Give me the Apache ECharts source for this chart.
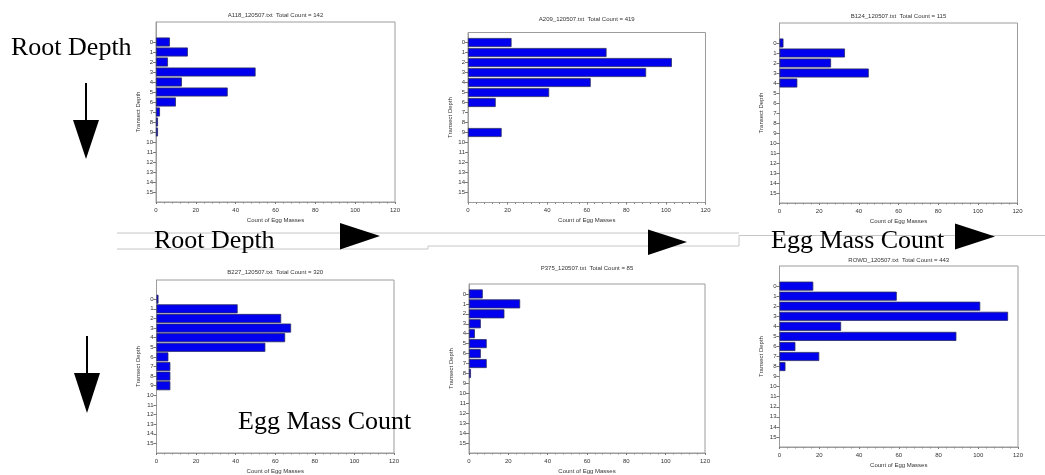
<!DOCTYPE html>
<html>
<head>
<meta charset="utf-8">
<script src="https://cdn.jsdelivr.net/npm/echarts@6/dist/echarts.min.js"></script>
<style>
html,body{margin:0;padding:0;background:#fff;}
#chart{width:1045px;height:475px;}
</style>
</head>
<body>
<div id="chart"></div>
<script>
// ---- data ----
const depths = [0,1,2,3,4,5,6,7,8,9,10,11,12,13,14,15];
const a118 = [7,16,6,50,13,36,10,2,1,1,0,0,0,0,0,0];
const a209 = [22,70,103,90,62,41,14,0,0,17,0,0,0,0,0,0];
const b124 = [2,33,26,45,9,0,0,0,0,0,0,0,0,0,0,0];
const b227 = [1,41,63,68,65,55,6,7,7,7,0,0,0,0,0,0];
const p375 = [7,26,18,6,3,9,6,9,1,0,0,0,0,0,0,0];
const rowd = [17,59,101,115,31,89,8,20,3,0,0,0,0,0,0,0];
const panelTitles = [
  'A118_120507.txt  Total Count = 142',
  'A209_120507.txt  Total Count = 419',
  'B124_120507.txt  Total Count = 115',
  'B227_120507.txt  Total Count = 320',
  'P375_120507.txt  Total Count = 85',
  'ROWD_120507.txt  Total Count = 443'
];
const panelValues = [a118, a209, b124, b227, p375, rowd];
const xMin = 0, xMax = 120, xStep = 20;
const xName = 'Count of Egg Masses';
const yName = 'Transect Depth';

// ---- layout (positions only) ----
const layouts = [
  {left:156,   top:22,  width:239,   height:180, yFrom:-2, titleY:16},
  {left:468,   top:32.5,width:237.5, height:170, yFrom:-1, titleY:19.5},
  {left:779.5, top:23,  width:238,   height:180, yFrom:-2, titleY:16.5},
  {left:156.5, top:280, width:237.5, height:180, yFrom:-2, titleY:272.5},
  {left:469,   top:284, width:236,   height:173, yFrom:-1, titleY:269},
  {left:779.5, top:266, width:238.5, height:181, yFrom:-2, titleY:261}
];

const txt = '#333';
const boxColor = '#9c9c9c';
const grids = [], xAxes = [], yAxes = [], series = [], titles = [];
const inRange = (i, v) => +v >= depths[0] && +v <= depths[depths.length-1];

layouts.forEach((L, i) => {
  const cats = [];
  for (let d = L.yFrom; d <= 16; d++) cats.push(String(d));
  grids.push({left:L.left, top:L.top, width:L.width, height:L.height,
    show:true, borderColor:boxColor, borderWidth:1, backgroundColor:'transparent', containLabel:false});
  titles.push({text:panelTitles[i], left:L.left + L.width/2, top:L.titleY - 3.5, textAlign:'center',
    padding:0, textStyle:{fontSize:6, fontWeight:'normal', color:txt, fontFamily:'Liberation Sans'}});
  xAxes.push({type:'value', gridIndex:i, min:xMin, max:xMax, interval:xStep,
    name:xName, nameLocation:'middle', nameGap:15,
    nameTextStyle:{fontSize:6, color:txt, fontFamily:'Liberation Sans'},
    axisLine:{show:true, lineStyle:{color:boxColor, width:1}},
    axisTick:{show:true, length:2, lineStyle:{color:'#777'}},
    minorTick:{show:true, splitNumber:5, length:1.5, lineStyle:{color:'#888'}},
    axisLabel:{fontSize:6, color:txt, margin:5, fontFamily:'Liberation Sans'},
    splitLine:{show:false}});
  yAxes.push({type:'category', gridIndex:i, inverse:true, boundaryGap:false, data:cats,
    name:yName, nameLocation:'middle', nameGap:15, nameRotate:90,
    nameTextStyle:{fontSize:6, color:txt, fontFamily:'Liberation Sans'},
    axisLine:{show:true, lineStyle:{color:boxColor, width:1}},
    axisTick:{show:true, length:3, interval:inRange, lineStyle:{color:'#777'}},
    axisLabel:{fontSize:6, color:txt, margin:3, interval:inRange, fontFamily:'Liberation Sans'},
    splitLine:{show:false}});
  const vals = panelValues[i];
  series.push({type:'bar', xAxisIndex:i, yAxisIndex:i, barWidth:9, silent:true,
    itemStyle:{color:'#0000ee', borderColor:'#2a2a66', borderWidth:0.8},
    data: depths.filter((d, k) => vals[k] > 0).map(d => [vals[depths.indexOf(d)], String(d)])});
});

const serif = 'Liberation Serif';
const graphics = [
  // band lines between the rows
  {type:'polyline', shape:{points:[[117,233],[739,233]]}, style:{stroke:'#c6c6c6', lineWidth:1}},
  {type:'polyline', shape:{points:[[117,249],[428,249],[428,246],[739,246],[739,235.5],[1045,235.5]]}, style:{stroke:'#c6c6c6', lineWidth:1, fill:null}},
  // arrows
  {type:'polygon', shape:{points:[[340,223],[380,236],[340,249.5]]}, style:{fill:'#000'}},
  {type:'polygon', shape:{points:[[648,229.5],[687,242],[648,255]]}, style:{fill:'#000'}},
  {type:'polygon', shape:{points:[[955,223.5],[995,236.5],[955,249.5]]}, style:{fill:'#000'}},
  {type:'line', shape:{x1:86, y1:83, x2:86, y2:122}, style:{stroke:'#000', lineWidth:2}},
  {type:'polygon', shape:{points:[[73,120],[99,120],[86,159]]}, style:{fill:'#000'}},
  {type:'line', shape:{x1:87, y1:336, x2:87, y2:375}, style:{stroke:'#000', lineWidth:2}},
  {type:'polygon', shape:{points:[[74,373],[100,373],[87,413]]}, style:{fill:'#000'}},
  // texts
  {type:'text', x:11, y:48, style:{text:'Root Depth', font:'26px "Liberation Serif"', fill:'#000', verticalAlign:'middle'}},
  {type:'text', x:154, y:241, style:{text:'Root Depth', font:'26px "Liberation Serif"', fill:'#000', verticalAlign:'middle'}},
  {type:'text', x:771, y:241, style:{text:'Egg Mass Count', font:'26px "Liberation Serif"', fill:'#000', verticalAlign:'middle'}},
  {type:'text', x:238, y:422, style:{text:'Egg Mass Count', font:'26px "Liberation Serif"', fill:'#000', verticalAlign:'middle'}}
];

const chart = echarts.init(document.getElementById('chart'), null, {renderer:'canvas'});
chart.setOption({
  animation:false,
  backgroundColor:'#fff',
  title:titles,
  grid:grids,
  xAxis:xAxes,
  yAxis:yAxes,
  series:series,
  graphic:graphics
});
</script>
</body>
</html>
